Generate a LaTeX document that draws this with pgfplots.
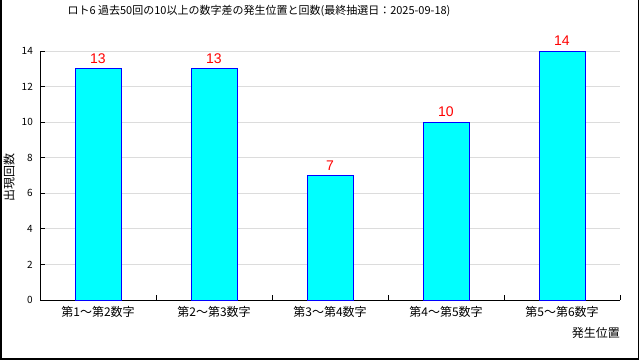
\documentclass[border=0pt]{standalone}
\usepackage{pgfplots}
\pgfplotsset{compat=1.18}
\usepackage{fontspec}
\setmainfont{Noto Sans CJK JP}
\newfontfamily\arialfont{Liberation Sans}
\definecolor{barcyan}{RGB}{0,255,255}
\definecolor{barblue}{RGB}{0,0,255}
\definecolor{gridgray}{RGB}{220,220,220}
\begin{document}
\begin{tikzpicture}[x=1pt,y=1pt]
\path[use as bounding box] (0,0) rectangle (640,360);
\draw[line width=1.5pt] (0.75,360) -- (0.75,1.25) -- (638.5,1.25) -- (638.5,360);
\node[font=\fontsize{11}{13}\selectfont] at (259,349) {ロト6 過去50回の10以上の数字差の発生位置と回数(最終抽選日：2025-09-18)};
\node[rotate=90, font=\fontsize{12}{14}\selectfont] at (9,183) {出現回数};
\node[anchor=east, font=\fontsize{12}{14}\selectfont, inner sep=0pt] at (620,27.3) {発生位置};
\begin{axis}[
  at={(40pt,60pt)}, anchor=south west, scale only axis,
  width=580pt, height=249pt,
  xmin=-0.5, xmax=4.5, ymin=0, ymax=14,
  enlargelimits=false,
  axis x line=bottom, axis y line=left,
  axis line style={line width=1pt, -},
  ybar, bar width=46pt,
  ytick={0,2,...,14},
  xtick={0,1,2,3,4},
  xticklabels={第1～第2数字,第2～第3数字,第3～第4数字,第4～第5数字,第5～第6数字},
  xtick style={draw=none},
  extra x ticks={0.5,1.5,2.5,3.5,4.5},
  extra x tick labels={},
  extra x tick style={xtick style={draw=black, line width=1pt}},
  tick align=inside,
  major tick length=5pt,
  ytick style={line width=1pt, black},
  ymajorgrids, grid style={gridgray, line width=1pt},
  /pgf/number format/assume math mode=true,
  yticklabel style={font=\fontsize{10}{12}\selectfont, inner sep=0pt, anchor=east, xshift=-7pt},
  xticklabel style={font=\fontsize{12}{14}\selectfont, inner sep=0pt, anchor=center, yshift=-11.7pt},
  nodes near coords,
  every node near coord/.append style={font=\arialfont\fontsize{14}{16}\selectfont, text=red, anchor=south, inner sep=0pt, yshift=5pt},
]
\addplot[fill=barcyan, draw=barblue, line width=1pt] coordinates {(0,13) (1,13) (2,7) (3,10) (4,14)};
\end{axis}
\end{tikzpicture}
\end{document}
